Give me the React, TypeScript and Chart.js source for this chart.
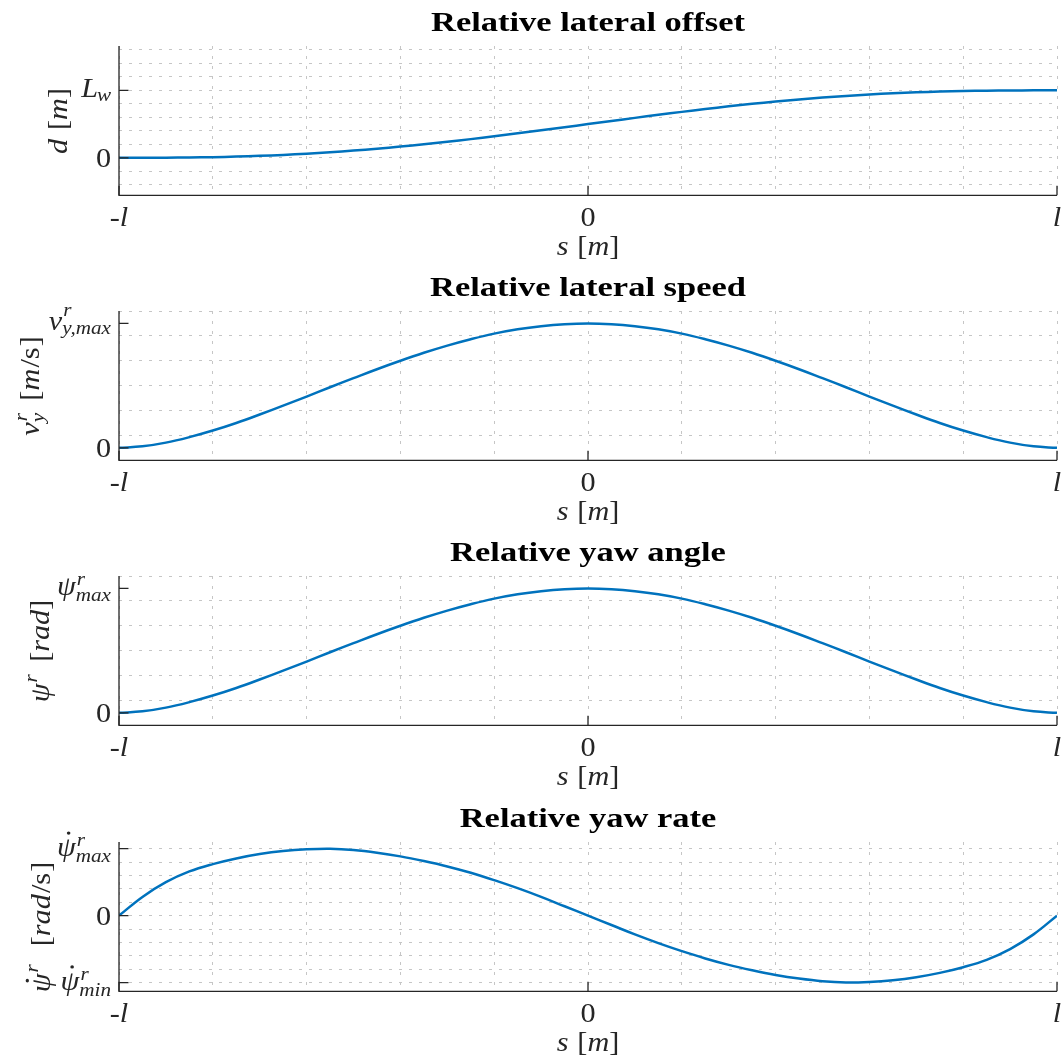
import React, { useEffect, useRef } from 'react';
import { Chart, registerables } from 'chart.js';

Chart.register(...registerables);

// ---------- data ----------
const S = [
  -1, -0.95, -0.9, -0.85, -0.8, -0.75, -0.7, -0.65, -0.6, -0.55, -0.5, -0.45, -0.4, -0.35, -0.3, -0.25, -0.2, -0.15, -0.1, -0.05,
  0, 0.05, 0.1, 0.15, 0.2, 0.25, 0.3, 0.35, 0.4, 0.45, 0.5, 0.55, 0.6, 0.65, 0.7, 0.75, 0.8, 0.85, 0.9, 0.95, 1,
];
const LATERAL_OFFSET = [
  0, 0, 0.002, 0.005, 0.01, 0.018, 0.029, 0.043, 0.061, 0.082, 0.107, 0.135, 0.166, 0.2, 0.237, 0.277, 0.319, 0.363, 0.408, 0.454,
  0.5, 0.546, 0.592, 0.637, 0.681, 0.723, 0.763, 0.8, 0.834, 0.865, 0.893, 0.918, 0.939, 0.957, 0.971, 0.982, 0.99, 0.995, 0.998, 1, 1,
];
const LATERAL_SPEED = [
  0, 0.012, 0.042, 0.086, 0.139, 0.2, 0.268, 0.339, 0.412, 0.487, 0.56, 0.632, 0.7, 0.764, 0.822, 0.873, 0.918, 0.953, 0.978, 0.994,
  1, 0.994, 0.978, 0.953, 0.918, 0.873, 0.822, 0.764, 0.7, 0.632, 0.56, 0.487, 0.412, 0.339, 0.268, 0.2, 0.139, 0.086, 0.042, 0.012, 0,
];
const YAW_ANGLE = [
  0, 0.012, 0.042, 0.086, 0.139, 0.2, 0.268, 0.339, 0.412, 0.487, 0.56, 0.632, 0.7, 0.764, 0.822, 0.873, 0.918, 0.953, 0.978, 0.994,
  1, 0.994, 0.978, 0.953, 0.918, 0.873, 0.822, 0.764, 0.7, 0.632, 0.56, 0.487, 0.412, 0.339, 0.268, 0.2, 0.139, 0.086, 0.042, 0.012, 0,
];
const YAW_RATE = [
  0, 0.28, 0.5, 0.66, 0.77, 0.855, 0.92, 0.965, 0.99, 0.998, 0.98, 0.94, 0.885, 0.815, 0.735, 0.64, 0.53, 0.41, 0.28, 0.14,
  0, -0.14, -0.28, -0.41, -0.53, -0.64, -0.735, -0.815, -0.885, -0.94, -0.98, -0.998, -0.99, -0.965, -0.92, -0.855, -0.77, -0.66, -0.5, -0.28, 0,
];

const TITLES = ['Relative lateral offset', 'Relative lateral speed', 'Relative yaw angle', 'Relative yaw rate'];

type M = { t: string; it?: boolean; sc?: number; dy?: number; stack?: boolean; pre?: number; dot?: boolean };

const X_TICK_VALUES = [-1, 0, 1];
const X_TICK_LABELS: M[][] = [[{ t: '-' }, { t: 'l', it: true }], [{ t: '0' }], [{ t: 'l', it: true }]];
const X_LABEL: M[] = [{ t: 's', it: true }, { t: '[', pre: 8 }, { t: 'm', it: true }, { t: ']' }];

const ZERO: M[] = [{ t: '0' }];
const Y_TICKS_OFFSET = [
  { v: 0, label: ZERO },
  { v: 1, label: [{ t: 'L', it: true }, { t: 'w', it: true, sc: 0.7, dy: 4, pre: -1 }] as M[] },
];
const Y_TICKS_SPEED = [
  { v: 0, label: ZERO },
  {
    v: 1,
    label: [
      { t: 'v', it: true },
      { t: 'r', it: true, sc: 0.7, dy: -14, pre: 1 },
      { t: 'y,max', it: true, sc: 0.7, dy: 4, stack: true, pre: -1 },
    ] as M[],
  },
];
const Y_TICKS_ANGLE = [
  { v: 0, label: ZERO },
  {
    v: 1,
    label: [
      { t: 'ψ', it: true },
      { t: 'r', it: true, sc: 0.7, dy: -10, pre: 1 },
      { t: 'max', it: true, sc: 0.7, dy: 6, stack: true, pre: -1 },
    ] as M[],
  },
];
const Y_TICKS_RATE = [
  {
    v: -1,
    label: [
      { t: 'ψ', it: true, dot: true },
      { t: 'r', it: true, sc: 0.7, dy: -10, pre: 1 },
      { t: 'min', it: true, sc: 0.7, dy: 6, stack: true, pre: -1 },
    ] as M[],
  },
  { v: 0, label: ZERO },
  {
    v: 1,
    label: [
      { t: 'ψ', it: true, dot: true },
      { t: 'r', it: true, sc: 0.7, dy: -10, pre: 1 },
      { t: 'max', it: true, sc: 0.7, dy: 6, stack: true, pre: -1 },
    ] as M[],
  },
];

const Y_LABEL_OFFSET: M[] = [{ t: 'd', it: true }, { t: '[', pre: 8 }, { t: 'm', it: true }, { t: ']' }];
const Y_LABEL_SPEED: M[] = [
  { t: 'v', it: true },
  { t: 'r', it: true, sc: 0.7, dy: -12, pre: 1 },
  { t: 'y', it: true, sc: 0.7, dy: 5, stack: true, pre: -1 },
  { t: '[', pre: 11 },
  { t: 'm', it: true },
  { t: '/s', pre: 1 },
  { t: ']', pre: 1 },
];
const Y_LABEL_ANGLE: M[] = [
  { t: 'ψ', it: true },
  { t: 'r', it: true, sc: 0.7, dy: -12, pre: 1 },
  { t: '[', pre: 11 },
  { t: 'rad', it: true },
  { t: ']' },
];
const Y_LABEL_RATE: M[] = [
  { t: 'ψ', it: true, dot: true },
  { t: 'r', it: true, sc: 0.7, dy: -12, pre: 1 },
  { t: '[', pre: 16 },
  { t: 'rad', it: true },
  { t: '/s', pre: 1 },
  { t: ']', pre: 1 },
];

// ---------- styling ----------
const SERIF = '"Liberation Serif", "Times New Roman", Times, serif';
const INK = '#262626';
const GRID = '#c6c6c6';
const LINE = '#0072BD';
const FS = 27;
const SX = 1.12;

function fontOf(m: M, size: number) {
  return `${m.it ? 'italic ' : ''}${(size * (m.sc ?? 1)).toFixed(1)}px ${SERIF}`;
}

function measure(ctx: CanvasRenderingContext2D, items: M[], size: number) {
  let x = 0;
  let gs = 0;
  let gw = 0;
  const pos: number[] = [];
  const wid: number[] = [];
  for (const m of items) {
    ctx.font = fontOf(m, size);
    const w = ctx.measureText(m.t).width;
    const pre = m.pre ?? 0;
    if (m.stack) {
      pos.push(gs + pre);
      gw = Math.max(gw, pre + w);
      x = gs + gw;
    } else {
      gs = x + pre;
      pos.push(gs);
      gw = w;
      x = gs + w;
    }
    wid.push(w);
  }
  return { pos, wid, width: x };
}

function drawMath(ctx: CanvasRenderingContext2D, items: M[], x: number, y: number, size: number, align: string) {
  const { pos, wid, width } = measure(ctx, items, size);
  const x0 = align === 'left' ? 0 : align === 'right' ? -width : -width / 2;
  ctx.save();
  ctx.translate(x, y);
  ctx.scale(SX, 1);
  ctx.textAlign = 'left';
  ctx.textBaseline = 'alphabetic';
  ctx.fillStyle = INK;
  items.forEach((m, i) => {
    ctx.font = fontOf(m, size);
    const px = x0 + pos[i];
    const py = m.dy ?? 0;
    ctx.fillText(m.t, px, py);
    if (m.dot) {
      ctx.beginPath();
      ctx.arc(px + wid[i] * 0.62, py - size * 0.84, size * 0.06, 0, Math.PI * 2);
      ctx.fill();
    }
  });
  ctx.restore();
}

type Panel = {
  title: string;
  data: number[];
  yMin: number;
  yMax: number;
  yTicks: { v: number; label: M[] }[];
  yLabel: M[];
  yLabelX: number;
  yLabelY: number;
  top: number;
};

const PANELS: Panel[] = [
  { title: TITLES[0], data: LATERAL_OFFSET, yMin: -0.556, yMax: 1.658, yTicks: Y_TICKS_OFFSET, yLabel: Y_LABEL_OFFSET, yLabelX: 67, yLabelY: 121, top: 0 },
  { title: TITLES[1], data: LATERAL_SPEED, yMin: -0.1, yMax: 1.1, yTicks: Y_TICKS_SPEED, yLabel: Y_LABEL_SPEED, yLabelX: 39, yLabelY: 121, top: 265 },
  { title: TITLES[2], data: YAW_ANGLE, yMin: -0.1, yMax: 1.1, yTicks: Y_TICKS_ANGLE, yLabel: Y_LABEL_ANGLE, yLabelX: 49, yLabelY: 121, top: 530 },
  { title: TITLES[3], data: YAW_RATE, yMin: -1.13, yMax: 1.1, yTicks: Y_TICKS_RATE, yLabel: Y_LABEL_RATE, yLabelX: 50, yLabelY: 131, top: 796 },
];

const CW = 1062;
const CH = 268;
const AREA_TOP = 46;
const AREA_BOTTOM = 195.3;

function PanelChart({ p }: { p: Panel }) {
  const ref = useRef<HTMLCanvasElement | null>(null);
  useEffect(() => {
    const canvas = ref.current;
    if (!canvas) return;
    const decor = {
      id: 'decor',
      afterDraw(chart: any) {
        const ctx: CanvasRenderingContext2D = chart.ctx;
        const a = chart.chartArea;
        const xs = chart.scales.x;
        const ys = chart.scales.y;
        ctx.save();
        ctx.setLineDash([]);
        ctx.strokeStyle = INK;
        ctx.lineWidth = 1.3;
        ctx.beginPath();
        ctx.moveTo(a.left, a.top);
        ctx.lineTo(a.left, a.bottom);
        ctx.lineTo(a.right, a.bottom);
        ctx.stroke();
        ctx.beginPath();
        X_TICK_VALUES.forEach((v) => {
          const px = xs.getPixelForValue(v);
          ctx.moveTo(px, a.bottom);
          ctx.lineTo(px, a.bottom - 9.5);
        });
        p.yTicks.forEach((t) => {
          const py = ys.getPixelForValue(t.v);
          ctx.moveTo(a.left, py);
          ctx.lineTo(a.left + 9.5, py);
        });
        ctx.stroke();

        X_TICK_LABELS.forEach((lab, i) => drawMath(ctx, lab, xs.getPixelForValue(X_TICK_VALUES[i]), 226, FS, 'center'));
        drawMath(ctx, X_LABEL, (a.left + a.right) / 2, 255, FS, 'center');

        p.yTicks.forEach((t) => {
          const py = ys.getPixelForValue(t.v);
          drawMath(ctx, t.label, a.left - 8, py + (t.label === ZERO ? 9 : 7), FS, 'right');
        });

        ctx.save();
        ctx.translate(p.yLabelX, p.yLabelY);
        ctx.rotate(-Math.PI / 2);
        drawMath(ctx, p.yLabel, 0, 0, FS, 'center');
        ctx.restore();

        ctx.font = `bold 27px ${SERIF}`;
        const sx = 314 / ctx.measureText(TITLES[0]).width;
        ctx.save();
        ctx.translate((a.left + a.right) / 2, 31);
        ctx.scale(sx, 1);
        ctx.textAlign = 'center';
        ctx.textBaseline = 'alphabetic';
        ctx.fillStyle = '#000';
        ctx.fillText(p.title, 0, 0);
        ctx.restore();
        ctx.restore();
      },
    };

    const gridCommon = { color: GRID, lineWidth: 1, drawTicks: false };
    const chart = new Chart(canvas, {
      type: 'line',
      data: {
        datasets: [
          {
            data: S.map((s, i) => ({ x: s, y: p.data[i] })),
            borderColor: LINE,
            borderWidth: 2.5,
            pointRadius: 0,
            fill: false,
            tension: 0.4,
          },
        ],
      },
      options: {
        animation: false,
        responsive: false,
        devicePixelRatio: 1,
        layout: { padding: { top: AREA_TOP, right: 5, left: 0, bottom: 0 } },
        plugins: { legend: { display: false }, tooltip: { enabled: false }, title: { display: false } },
        events: [],
        scales: {
          x: {
            type: 'linear',
            min: -1,
            max: 1,
            ticks: { stepSize: 0.2, display: false, includeBounds: false },
            grid: gridCommon,
            border: { display: false, dash: [3, 7] },
            afterFit: (s: any) => {
              s.height = CH - AREA_BOTTOM;
            },
          },
          y: {
            type: 'linear',
            min: p.yMin,
            max: p.yMax,
            ticks: { stepSize: 0.2, display: false, includeBounds: false },
            grid: gridCommon,
            border: { display: false, dash: [3, 7] },
            afterFit: (s: any) => {
              s.width = 119;
            },
          },
        },
      } as any,
      plugins: [decor],
    });
    return () => chart.destroy();
  }, [p]);
  return (
    <canvas
      ref={ref}
      width={CW}
      height={CH}
      style={{ position: 'absolute', left: 0, top: p.top, width: CW, height: CH }}
    />
  );
}

export default function App() {
  return (
    <div style={{ position: 'absolute', left: 0, top: 0, width: 1062, height: 1064, background: '#fff', overflow: 'hidden' }}>
      {PANELS.map((p, i) => (
        <PanelChart key={i} p={p} />
      ))}
    </div>
  );
}
